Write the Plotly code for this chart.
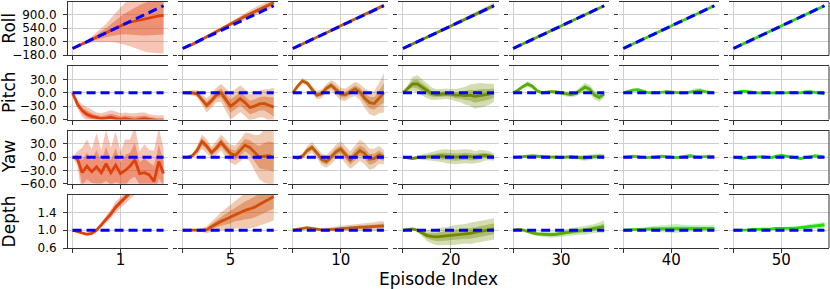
import plotly.graph_objects as go
from plotly.subplots import make_subplots

# ---------------- data ----------------
EPISODES = ["1", "5", "10", "20", "30", "40", "50"]
STEPS = list(range(20))
ROW_NAMES = ["Roll", "Pitch", "Yaw", "Depth"]

TARGET_ROLL = [0, 60, 120, 180, 240, 300, 360, 420, 480, 540, 600, 660, 720, 780, 840, 900, 960, 1020, 1080, 1140]
TARGET_PITCH = [0, 0, 0, 0, 0, 0, 0, 0, 0, 0, 0, 0, 0, 0, 0, 0, 0, 0, 0, 0]
TARGET_YAW = [0, 0, 0, 0, 0, 0, 0, 0, 0, 0, 0, 0, 0, 0, 0, 0, 0, 0, 0, 0]
TARGET_DEPTH = [1.0, 1.0, 1.0, 1.0, 1.0, 1.0, 1.0, 1.0, 1.0, 1.0, 1.0, 1.0, 1.0, 1.0, 1.0, 1.0, 1.0, 1.0, 1.0, 1.0]

ROLL_MEAN = [
    [0, 55, 115, 175, 240, 300, 360, 420, 490, 560, 615, 660, 700, 730, 755, 780, 810, 840, 870, 885],
    [0, 50, 110, 175, 245, 320, 390, 450, 510, 580, 655, 730, 800, 860, 920, 980, 1040, 1100, 1160, 1220],
    [0, 58, 118, 178, 240, 302, 362, 422, 482, 544, 606, 668, 730, 792, 852, 912, 972, 1032, 1092, 1150],
    [0, 58, 117, 176, 236, 296, 356, 416, 476, 537, 598, 659, 720, 781, 842, 903, 964, 1025, 1086, 1148],
    [0, 60, 120, 179, 239, 299, 359, 419, 479, 539, 599, 659, 719, 779, 839, 899, 959, 1019, 1079, 1139],
    [0, 60, 119, 179, 240, 300, 359, 419, 480, 540, 599, 659, 720, 780, 839, 899, 960, 1020, 1079, 1140],
    [0, 60, 120, 180, 240, 300, 360, 420, 480, 540, 600, 660, 720, 780, 840, 900, 960, 1020, 1080, 1141],
]
ROLL_SD = [
    [0, 8, 15, 25, 40, 60, 90, 120, 160, 200, 240, 280, 320, 360, 400, 430, 460, 480, 500, 510],
    [0, 4, 8, 12, 16, 20, 22, 24, 26, 30, 34, 38, 42, 46, 50, 52, 54, 56, 58, 60],
    [0, 3, 5, 6, 8, 9, 10, 11, 12, 13, 14, 15, 16, 17, 18, 19, 20, 21, 22, 22],
    [0, 3, 5, 7, 9, 11, 13, 15, 17, 19, 21, 23, 25, 27, 29, 31, 33, 35, 37, 38],
    [0, 2, 3, 4, 5, 5, 6, 6, 7, 7, 8, 8, 8, 9, 9, 10, 10, 10, 11, 11],
    [0, 2, 2, 3, 3, 4, 4, 5, 5, 5, 6, 6, 6, 7, 7, 7, 8, 8, 8, 9],
    [0, 1, 2, 2, 3, 3, 3, 4, 4, 4, 5, 5, 5, 5, 6, 6, 6, 6, 7, 7],
]
PITCH_MEAN = [
    [0, -25, -40, -48, -53, -56, -58, -57, -55, -58, -60, -58, -60, -62, -60, -58, -60, -62, -63, -62],
    [0, 0, 0, -2, -15, -28, -18, -5, 0, -15, -30, -22, -13, -22, -33, -30, -25, -24, -28, -32],
    [0, 15, 27, 22, 8, -5, -2, 10, 17, 8, -3, -4, 3, 9, 2, -12, -22, -24, -12, 0],
    [0, 10, 20, 20, 12, 4, -2, -4, -3, -2, -3, -5, -5, -6, -5, -8, -6, -5, -3, 0],
    [0, 6, 14, 20, 15, 5, 0, 2, 3, 2, 0, -2, -4, -2, 6, 13, 8, -5, -10, -2],
    [0, 3, 6, 7, 4, 1, 0, 0, 1, 3, 2, 0, 0, 0, 2, 4, 5, 3, 1, 0],
    [0, 2, 4, 3, 1, 0, 0, 0, -1, -1, 0, 0, 1, 1, 0, 2, 3, 1, -1, -2],
]
PITCH_SD = [
    [0, 5, 7, 8, 7, 6, 6, 7, 8, 8, 7, 7, 7, 8, 8, 7, 6, 6, 6, 6],
    [0, 2, 3, 4, 6, 8, 8, 8, 10, 13, 15, 15, 15, 15, 15, 15, 15, 16, 18, 22],
    [0, 2, 3, 3, 4, 5, 5, 5, 6, 7, 7, 7, 7, 8, 9, 11, 13, 14, 17, 22],
    [0, 4, 8, 10, 9, 8, 7, 6, 6, 6, 6, 7, 8, 10, 12, 14, 14, 13, 12, 10],
    [0, 1, 2, 3, 3, 2, 2, 2, 2, 2, 2, 3, 3, 3, 4, 5, 5, 5, 5, 4],
    [0, 1, 2, 2, 2, 1, 1, 1, 1, 2, 1, 1, 1, 1, 2, 3, 3, 2, 1, 1],
    [0, 1, 1, 1, 1, 1, 1, 1, 1, 1, 1, 1, 1, 1, 1, 1, 1, 1, 1, 1],
]
YAW_MEAN = [
    [0, -3, -35, -20, -33, -22, -35, -15, -35, -18, -37, -30, -20, -6, -37, -35, -40, -55, -10, -37],
    [0, 0, 3, 15, 35, 25, 10, 20, 33, 20, 8, 4, 15, 27, 22, 10, 0, 2, 3, 0],
    [0, -2, 2, 15, 22, 10, -5, -10, 0, 12, 18, 5, -7, 5, 15, 8, -5, -3, 5, 0],
    [0, -2, -3, -1, 0, 1, 2, 3, 3, 2, 1, 0, 1, 2, 1, 0, 2, 4, 3, 0],
    [0, 0, 1, 2, 3, 2, 1, 1, 0, 0, -1, 0, 1, 0, -1, -2, 0, 1, 2, 1],
    [0, 1, 2, 1, 0, -1, 0, 1, 2, 1, 0, -1, 0, 2, 3, 1, 0, 1, 2, 1],
    [0, -2, -3, -1, 0, 1, 1, 0, -1, 2, 4, 2, 0, -2, -3, -1, 1, 3, 2, 0],
]
YAW_SD = [
    [0, 8, 28, 30, 25, 38, 25, 38, 28, 38, 25, 35, 30, 38, 25, 32, 28, 35, 38, 28],
    [0, 1, 2, 5, 8, 8, 7, 8, 9, 10, 10, 11, 12, 14, 16, 20, 25, 30, 32, 33],
    [0, 2, 3, 5, 6, 6, 7, 7, 8, 8, 9, 10, 10, 11, 12, 12, 12, 11, 10, 8],
    [0, 1, 2, 2, 3, 4, 5, 6, 7, 8, 8, 8, 8, 8, 8, 7, 7, 6, 5, 4],
    [0, 1, 1, 1, 2, 2, 2, 2, 2, 2, 2, 2, 2, 2, 3, 3, 3, 3, 3, 3],
    [0, 1, 1, 1, 1, 1, 1, 1, 1, 1, 1, 1, 1, 2, 2, 1, 1, 1, 1, 1],
    [0, 1, 1, 1, 1, 1, 1, 1, 1, 1, 2, 1, 1, 1, 1, 1, 1, 2, 1, 1],
]
DEPTH_MEAN = [
    [1.0, 0.97, 0.93, 0.91, 0.93, 1.0, 1.12, 1.24, 1.37, 1.52, 1.64, 1.76, 1.88, 2.0, 2.1, 2.2, 2.3, 2.4, 2.5, 2.6],
    [1.0, 1.0, 1.0, 1.0, 1.0, 1.01, 1.08, 1.15, 1.2, 1.25, 1.3, 1.36, 1.4, 1.45, 1.48, 1.52, 1.58, 1.64, 1.7, 1.76],
    [1.0, 1.02, 1.05, 1.06, 1.04, 1.02, 1.01, 1.01, 1.02, 1.03, 1.04, 1.05, 1.05, 1.06, 1.07, 1.07, 1.08, 1.09, 1.1, 1.1],
    [1.0, 1.02, 1.03, 1.0, 0.94, 0.88, 0.86, 0.85, 0.86, 0.87, 0.88, 0.9, 0.91, 0.92, 0.93, 0.95, 0.97, 0.99, 1.01, 1.03],
    [1.0, 1.02, 1.01, 0.97, 0.94, 0.92, 0.91, 0.9, 0.9, 0.91, 0.93, 0.95, 0.96, 0.98, 0.99, 1.0, 1.02, 1.04, 1.06, 1.08],
    [1.0, 1.01, 1.02, 1.02, 1.02, 1.03, 1.03, 1.03, 1.03, 1.04, 1.04, 1.04, 1.04, 1.04, 1.04, 1.04, 1.04, 1.04, 1.04, 1.04],
    [1.0, 1.0, 1.01, 1.01, 1.02, 1.02, 1.03, 1.03, 1.03, 1.04, 1.04, 1.04, 1.05, 1.05, 1.06, 1.07, 1.08, 1.09, 1.1, 1.12],
]
DEPTH_SD = [
    [0, 0.005, 0.01, 0.01, 0.015, 0.02, 0.03, 0.04, 0.05, 0.06, 0.07, 0.08, 0.09, 0.1, 0.1, 0.1, 0.1, 0.1, 0.1, 0.1],
    [0, 0, 0.005, 0.01, 0.02, 0.04, 0.06, 0.08, 0.1, 0.12, 0.14, 0.16, 0.18, 0.2, 0.22, 0.23, 0.24, 0.25, 0.26, 0.27],
    [0, 0.005, 0.01, 0.01, 0.01, 0.01, 0.015, 0.02, 0.02, 0.025, 0.03, 0.03, 0.035, 0.035, 0.04, 0.04, 0.04, 0.045, 0.05, 0.05],
    [0, 0.005, 0.01, 0.02, 0.04, 0.06, 0.08, 0.09, 0.1, 0.1, 0.11, 0.11, 0.11, 0.11, 0.12, 0.12, 0.12, 0.12, 0.12, 0.12],
    [0, 0.005, 0.01, 0.015, 0.02, 0.025, 0.03, 0.03, 0.035, 0.035, 0.04, 0.04, 0.04, 0.045, 0.045, 0.05, 0.05, 0.05, 0.06, 0.07],
    [0, 0.005, 0.01, 0.015, 0.02, 0.025, 0.03, 0.035, 0.04, 0.045, 0.05, 0.05, 0.045, 0.04, 0.035, 0.035, 0.035, 0.035, 0.035, 0.035],
    [0, 0.005, 0.005, 0.01, 0.01, 0.01, 0.01, 0.01, 0.015, 0.015, 0.015, 0.015, 0.02, 0.02, 0.02, 0.025, 0.03, 0.03, 0.035, 0.035],
]

ROLL_TICKS = [-180, 180, 540, 900]
ANGLE_TICKS = [-60, -30, 0, 30]
DEPTH_TICKS = [0.6, 1.0, 1.4]

EPISODE_COLORS = ["#e0400c", "#d24e08", "#bf5e0a", "#6f8a00", "#5aab08", "#3fcb10", "#22de00"]

# ---------------- layout constants ----------------
W, H = 830, 289
ML, MR, MT, MB = 68, 1, 2, 41
PW, PH = W - ML - MR, H - MT - MB
FONT = "DejaVu Sans"
SPINE = "#333333"
GRID = "#cfcfcf"

rows = [
    (ROLL_MEAN, ROLL_SD, TARGET_ROLL, [-180, 1240], ROLL_TICKS),
    (PITCH_MEAN, PITCH_SD, TARGET_PITCH, [-60, 60], ANGLE_TICKS),
    (YAW_MEAN, YAW_SD, TARGET_YAW, [-60, 60], ANGLE_TICKS),
    (DEPTH_MEAN, DEPTH_SD, TARGET_DEPTH, [0.6, 1.8], DEPTH_TICKS),
]


def fmt(t):
    s = f"{abs(t):.1f}"
    return ("\u2212" + s) if t < 0 else s


fig = make_subplots(rows=4, cols=7, horizontal_spacing=10 / PW, vertical_spacing=11 / PH)


def rgba(hexc, a):
    h = hexc.lstrip("#")
    r, g, b = int(h[0:2], 16), int(h[2:4], 16), int(h[4:6], 16)
    return f"rgba({r},{g},{b},{a})"


for ri, (means, sds, target, yr, ticks) in enumerate(rows):
    for ci in range(7):
        m, s, col = means[ci], sds[ci], EPISODE_COLORS[ci]
        up2 = [a + 2 * b for a, b in zip(m, s)]
        lo2 = [a - 2 * b for a, b in zip(m, s)]
        up1 = [a + b for a, b in zip(m, s)]
        lo1 = [a - b for a, b in zip(m, s)]
        xs = STEPS + STEPS[::-1]
        fig.add_trace(go.Scatter(x=xs, y=up2 + lo2[::-1], fill="toself", fillcolor=rgba(col, 0.3),
                                 line=dict(width=0), mode="lines", hoverinfo="skip", showlegend=False),
                      row=ri + 1, col=ci + 1)
        fig.add_trace(go.Scatter(x=xs, y=up1 + lo1[::-1], fill="toself", fillcolor=rgba(col, 0.38),
                                 line=dict(width=0), mode="lines", hoverinfo="skip", showlegend=False),
                      row=ri + 1, col=ci + 1)
        fig.add_trace(go.Scatter(x=STEPS, y=m, mode="lines", line=dict(color=col, width=2.8),
                                 showlegend=False), row=ri + 1, col=ci + 1)
        fig.add_trace(go.Scatter(x=STEPS, y=target, mode="lines",
                                 line=dict(color="#0000ff", width=3, dash="9px,5px"),
                                 showlegend=False), row=ri + 1, col=ci + 1)

        bottom = ri == 3
        fig.update_xaxes(range=[-0.95, 19.95], tickvals=[0, 10],
                         ticktext=["", EPISODES[ci]], showticklabels=bottom,
                         ticks="outside", ticklen=4, tickcolor=SPINE, tickwidth=1,
                         ticklabelstandoff=-6,
                         tickfont=dict(family=FONT, size=15, color="black"),
                         showgrid=True, gridcolor=GRID, gridwidth=1,
                         showline=True, mirror=True, linecolor=SPINE, linewidth=1,
                         zeroline=False, automargin=False, row=ri + 1, col=ci + 1)
        fig.update_yaxes(range=yr, tickvals=ticks, ticktext=[fmt(t) for t in ticks],
                         showticklabels=(ci == 0), ticks="outside", ticklen=4,
                         tickcolor=SPINE, tickwidth=1, ticklabelstandoff=4,
                         tickfont=dict(family=FONT, size=12, color="black"),
                         showgrid=True, gridcolor=GRID, gridwidth=1,
                         showline=(ci == 0), mirror=False, linecolor=SPINE, linewidth=1,
                         zeroline=False, automargin=False, row=ri + 1, col=ci + 1)

# right spine of the last column
for ri in range(4):
    idx = ri * 7 + 7
    fig.add_shape(type="line", xref=f"x{idx} domain", yref=f"y{idx} domain",
                  x0=1, x1=1, y0=0, y1=1, line=dict(color=SPINE, width=1))

# row labels
annotations = []
for ri, name in enumerate(ROW_NAMES):
    yax = fig.layout["yaxis" if ri == 0 else f"yaxis{ri * 7 + 1}"]
    yc = (yax.domain[0] + yax.domain[1]) / 2
    annotations.append(dict(text=name, xref="paper", yref="paper", x=(9 - ML) / PW, y=yc,
                            textangle=-90, showarrow=False, xanchor="center", yanchor="middle",
                            font=dict(family=FONT, size=17, color="black")))
annotations.append(dict(text="Episode Index", xref="paper", yref="paper",
                        x=(438 - ML) / PW, y=-(278.5 - (H - MB)) / PH, showarrow=False,
                        xanchor="center", yanchor="middle",
                        font=dict(family=FONT, size=17, color="black")))

fig.update_layout(width=W, height=H, margin=dict(l=ML, r=MR, t=MT, b=MB),
                  paper_bgcolor="white", plot_bgcolor="white", annotations=annotations,
                  showlegend=False)

fig.write_html("out.html", config={"displayModeBar": False},
               post_script="document.body.style.margin='0px';document.body.style.overflow='hidden';")
